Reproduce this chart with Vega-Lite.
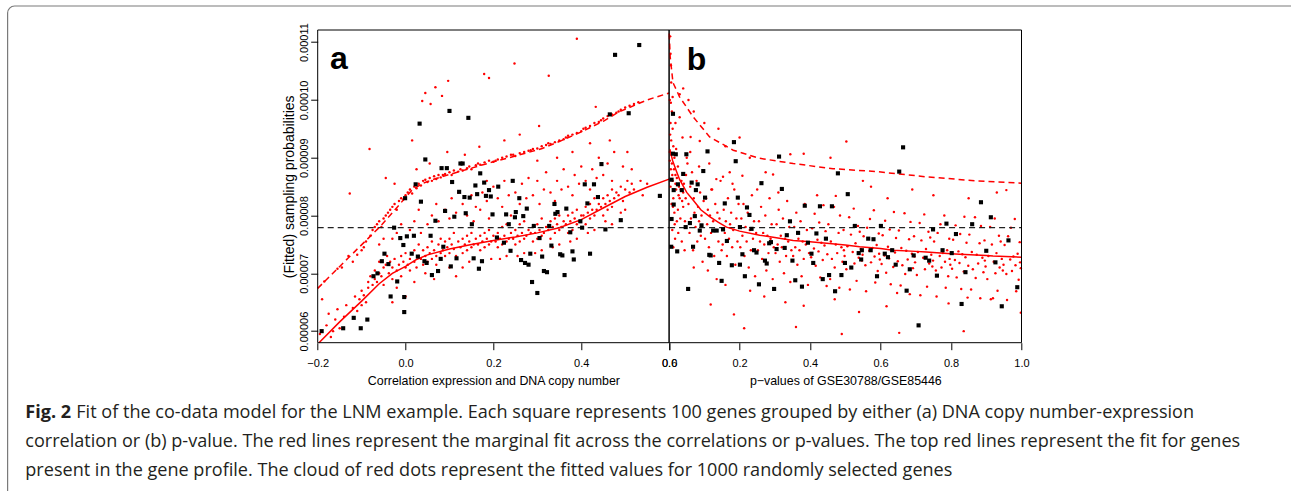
{
"$schema": "https://vega.github.io/schema/vega-lite/v6.json",
"width": 1292, "height": 492,
"autosize": {"type": "none"},
"padding": {"left": 7.3, "top": 5.7, "right": -8.3, "bottom": -6.7},
"background": "white",
"view": {"stroke": "#7a7a7a", "strokeWidth": 1.2, "cornerRadius": 7},
"config": {
  "font": "Liberation Sans",
  "axis": {"domain": false, "grid": false, "ticks": true, "tickSize": 7, "tickColor": "black", "tickWidth": 1, "labelFontSize": 11, "labelColor": "black", "titleFontSize": 12.4, "titleFontWeight": "normal", "titleColor": "black", "labelFlush": false, "labelOverlap": false}
},
"datasets": {
"caption": [
 {"line": 1, "seg": "head", "text": "Fig. 2"},
 {"line": 1, "seg": "body", "text": "Fit of the co-data model for the LNM example. Each square represents 100 genes grouped by either (a) DNA copy number-expression"},
 {"line": 2, "seg": "full", "text": "correlation or (b) p-value. The red lines represent the marginal fit across the correlations or p-values. The top red lines represent the fit for genes"},
 {"line": 3, "seg": "full", "text": "present in the gene profile. The cloud of red dots represent the fitted values for 1000 randomly selected genes"}
],
"boxA": [{"x":-0.2,"y":5.8e-5,"o":0},{"x":-0.2,"y":1.121e-4,"o":1},{"x":0.6,"y":1.121e-4,"o":2},{"x":0.6,"y":5.8e-5,"o":3},{"x":-0.2,"y":5.8e-5,"o":4}],
"boxB": [{"x":0,"y":5.8e-5,"o":0},{"x":0,"y":1.121e-4,"o":1},{"x":1,"y":1.121e-4,"o":2},{"x":1,"y":5.8e-5,"o":3},{"x":0,"y":5.8e-5,"o":4}],
"fitA": [
 {"k":"m","x":-0.197,"y":5.8e-5},{"k":"m","x":-0.15,"y":6.16e-5},{"k":"m","x":-0.1,"y":6.52e-5},{"k":"m","x":-0.06,"y":6.82e-5},{"k":"m","x":-0.03,"y":7.0e-5},{"k":"m","x":0,"y":7.12e-5},{"k":"m","x":0.025,"y":7.24e-5},{"k":"m","x":0.05,"y":7.32e-5},{"k":"m","x":0.1,"y":7.42e-5},{"k":"m","x":0.15,"y":7.5e-5},{"k":"m","x":0.2,"y":7.57e-5},{"k":"m","x":0.25,"y":7.63e-5},{"k":"m","x":0.3,"y":7.7e-5},{"k":"m","x":0.35,"y":7.79e-5},{"k":"m","x":0.4,"y":7.93e-5},{"k":"m","x":0.45,"y":8.13e-5},{"k":"m","x":0.5,"y":8.33e-5},{"k":"m","x":0.55,"y":8.49e-5},{"k":"m","x":0.6,"y":8.63e-5},
 {"k":"p","x":-0.2,"y":6.74e-5},{"k":"p","x":-0.13,"y":7.27e-5},{"k":"p","x":-0.059,"y":7.8e-5},{"k":"p","x":-0.03,"y":8.05e-5},{"k":"p","x":-0.006,"y":8.26e-5},{"k":"p","x":0.016,"y":8.45e-5},{"k":"p","x":0.04,"y":8.56e-5},{"k":"p","x":0.069,"y":8.64e-5},{"k":"p","x":0.1,"y":8.71e-5},{"k":"p","x":0.145,"y":8.81e-5},{"k":"p","x":0.2,"y":8.93e-5},{"k":"p","x":0.25,"y":9.03e-5},{"k":"p","x":0.311,"y":9.16e-5},{"k":"p","x":0.35,"y":9.28e-5},{"k":"p","x":0.401,"y":9.45e-5},{"k":"p","x":0.45,"y":9.63e-5},{"k":"p","x":0.485,"y":9.79e-5},{"k":"p","x":0.55,"y":10.0e-5},{"k":"p","x":0.6,"y":10.12e-5}
],
"fitB": [
 {"k":"m","x":0.002,"y":9.15e-5},{"k":"m","x":0.01,"y":8.95e-5},{"k":"m","x":0.02,"y":8.78e-5},{"k":"m","x":0.03,"y":8.62e-5},{"k":"m","x":0.05,"y":8.4e-5},{"k":"m","x":0.068,"y":8.27e-5},{"k":"m","x":0.09,"y":8.1e-5},{"k":"m","x":0.115,"y":7.98e-5},{"k":"m","x":0.14,"y":7.88e-5},{"k":"m","x":0.163,"y":7.8e-5},{"k":"m","x":0.2,"y":7.73e-5},{"k":"m","x":0.257,"y":7.66e-5},{"k":"m","x":0.3,"y":7.62e-5},{"k":"m","x":0.352,"y":7.57e-5},{"k":"m","x":0.4,"y":7.545e-5},{"k":"m","x":0.447,"y":7.52e-5},{"k":"m","x":0.5,"y":7.49e-5},{"k":"m","x":0.541,"y":7.46e-5},{"k":"m","x":0.6,"y":7.43e-5},{"k":"m","x":0.636,"y":7.4e-5},{"k":"m","x":0.7,"y":7.38e-5},{"k":"m","x":0.73,"y":7.37e-5},{"k":"m","x":0.8,"y":7.34e-5},{"k":"m","x":0.825,"y":7.33e-5},{"k":"m","x":0.9,"y":7.31e-5},{"k":"m","x":0.919,"y":7.3e-5},{"k":"m","x":1.0,"y":7.28e-5},
 {"k":"p","x":0.0005,"y":11.15e-5},{"k":"p","x":0.003,"y":10.75e-5},{"k":"p","x":0.011,"y":10.3e-5},{"k":"p","x":0.03,"y":10.05e-5},{"k":"p","x":0.068,"y":9.71e-5},{"k":"p","x":0.115,"y":9.36e-5},{"k":"p","x":0.182,"y":9.13e-5},{"k":"p","x":0.257,"y":8.99e-5},{"k":"p","x":0.352,"y":8.9e-5},{"k":"p","x":0.465,"y":8.81e-5},{"k":"p","x":0.589,"y":8.76e-5},{"k":"p","x":0.73,"y":8.67e-5},{"k":"p","x":0.872,"y":8.6e-5},{"k":"p","x":1.0,"y":8.56e-5}
],
"sqA": [
 {"x":0.532,"y":10.95e-5},{"x":0.477,"y":10.78e-5},{"x":0.1,"y":9.81e-5},{"x":0.143,"y":9.69e-5},{"x":0.032,"y":9.59e-5},{"x":0.465,"y":9.75e-5},{"x":0.508,"y":9.77e-5},{"x":0.045,"y":8.97e-5},{"x":0.082,"y":8.82e-5},{"x":0.094,"y":8.82e-5},{"x":0.125,"y":8.9e-5},{"x":0.13,"y":8.9e-5},{"x":0.17,"y":8.73e-5},{"x":0.106,"y":8.58e-5},{"x":0.023,"y":8.54e-5},{"x":0.159,"y":8.52e-5},{"x":0.179,"y":8.57e-5},{"x":0.211,"y":8.5e-5},{"x":0.244,"y":8.6e-5},{"x":0.408,"y":8.54e-5},{"x":0.429,"y":8.54e-5},{"x":0.446,"y":8.89e-5},{"x":0.122,"y":8.41e-5},{"x":0.163,"y":8.37e-5},{"x":0.134,"y":8.32e-5},{"x":0.146,"y":8.31e-5},{"x":0.183,"y":8.34e-5},{"x":0.194,"y":8.33e-5},{"x":0.19,"y":8.44e-5},{"x":0.259,"y":8.3e-5},{"x":0.438,"y":8.32e-5},{"x":0.579,"y":8.34e-5},{"x":-0.001,"y":8.3e-5},
 {"x":0.035,"y":8.24e-5},{"x":0.09,"y":8.08e-5},{"x":0.111,"y":7.98e-5},{"x":0.137,"y":8.04e-5},{"x":0.198,"y":8.02e-5},{"x":0.229,"y":8.02e-5},{"x":0.251,"y":8.06e-5},{"x":0.276,"y":8.12e-5},{"x":0.268,"y":7.99e-5},{"x":0.339,"y":8.2e-5},{"x":0.341,"y":8.03e-5},{"x":0.346,"y":8.06e-5},{"x":0.366,"y":8.12e-5},{"x":0.414,"y":8.21e-5},{"x":0.49,"y":7.92e-5},{"x":0.249,"y":7.97e-5},{"x":0.151,"y":7.85e-5},{"x":0.235,"y":7.85e-5},{"x":0.292,"y":7.82e-5},{"x":0.327,"y":7.82e-5},{"x":-0.026,"y":7.79e-5},{"x":0.398,"y":7.9e-5},{"x":0.402,"y":7.79e-5},{"x":0.455,"y":7.76e-5},{"x":0.068,"y":7.91e-5},{"x":-0.012,"y":7.61e-5},{"x":0.003,"y":7.64e-5},{"x":0.019,"y":7.65e-5},{"x":0.057,"y":7.65e-5},{"x":0.208,"y":7.62e-5},{"x":0.305,"y":7.61e-5},{"x":0.375,"y":7.71e-5},{"x":-0.005,"y":7.49e-5},{"x":0.014,"y":7.34e-5},{"x":0.028,"y":7.29e-5},{"x":0.086,"y":7.46e-5},{"x":0.224,"y":7.53e-5},{"x":0.239,"y":7.39e-5},{"x":0.332,"y":7.48e-5},{"x":0.352,"y":7.33e-5},{"x":0.357,"y":7.31e-5},{"x":0.38,"y":7.38e-5},{"x":0.383,"y":7.24e-5},{"x":0.42,"y":7.34e-5},{"x":-0.054,"y":7.21e-5},{"x":-0.048,"y":7.34e-5},{"x":-0.039,"y":7.16e-5},{"x":0.043,"y":7.21e-5},{"x":0.048,"y":7.18e-5},{"x":0.08,"y":7.25e-5},{"x":0.116,"y":7.26e-5},{"x":0.155,"y":7.26e-5},{"x":0.174,"y":7.21e-5},{"x":0.263,"y":7.23e-5},{"x":0.272,"y":7.18e-5},{"x":0.28,"y":7.15e-5},{"x":0.284,"y":7.34e-5},{"x":0.311,"y":7.29e-5},{"x":-0.073,"y":6.95e-5},{"x":-0.064,"y":7.0e-5},{"x":0.06,"y":6.97e-5},{"x":0.074,"y":7.04e-5},{"x":0.103,"y":7.12e-5},{"x":0.167,"y":7.08e-5},{"x":0.315,"y":7.04e-5},{"x":0.322,"y":7.02e-5},{"x":0.362,"y":6.97e-5},{"x":-0.019,"y":6.86e-5},{"x":-0.034,"y":6.6e-5},{"x":-0.003,"y":6.59e-5},{"x":-0.003,"y":6.33e-5},{"x":0.288,"y":6.85e-5},{"x":0.3,"y":6.66e-5},{"x":-0.191,"y":6.0e-5},{"x":-0.142,"y":6.05e-5},{"x":-0.102,"y":6.05e-5},{"x":-0.118,"y":6.23e-5},{"x":-0.087,"y":6.2e-5}
],
"sqB": [
 {"x":0.011,"y":9.76e-5},{"x":0.184,"y":9.27e-5},{"x":0.664,"y":9.18e-5},{"x":0.109,"y":9.11e-5},{"x":0.011,"y":9.07e-5},{"x":0.019,"y":9.06e-5},{"x":0.049,"y":9.06e-5},{"x":0.312,"y":9.02e-5},{"x":0.189,"y":8.94e-5},{"x":0.097,"y":8.77e-5},{"x":0.479,"y":8.73e-5},{"x":0.653,"y":8.76e-5},{"x":0.04,"y":8.72e-5},{"x":0.007,"y":8.62e-5},{"x":0.262,"y":8.56e-5},{"x":0.025,"y":8.54e-5},{"x":0.064,"y":8.57e-5},{"x":0.081,"y":8.54e-5},{"x":0.32,"y":8.46e-5},{"x":0.013,"y":8.44e-5},{"x":0.036,"y":8.44e-5},{"x":0.076,"y":8.44e-5},{"x":0.507,"y":8.37e-5},{"x":0.102,"y":8.31e-5},{"x":0.195,"y":8.31e-5},{"x":0.013,"y":8.19e-5},{"x":0.158,"y":8.21e-5},{"x":0.385,"y":8.17e-5},{"x":0.428,"y":8.16e-5},{"x":0.462,"y":8.16e-5},{"x":0.221,"y":8.14e-5},{"x":0.885,"y":8.23e-5},{"x":0.913,"y":7.97e-5},{"x":0.007,"y":7.94e-5},{"x":0.073,"y":7.99e-5},{"x":0.228,"y":8.01e-5},{"x":0.343,"y":7.9e-5},{"x":0.059,"y":7.87e-5},{"x":0.092,"y":7.83e-5},{"x":0.047,"y":7.8e-5},{"x":0.201,"y":7.8e-5},{"x":0.234,"y":7.77e-5},{"x":0.527,"y":7.82e-5},{"x":0.601,"y":7.82e-5},{"x":0.787,"y":7.86e-5},{"x":0.86,"y":7.85e-5},{"x":0.749,"y":7.76e-5},{"x":0.087,"y":7.74e-5},{"x":0.125,"y":7.74e-5},{"x":0.135,"y":7.74e-5},{"x":0.153,"y":7.76e-5},{"x":0.366,"y":7.7e-5},{"x":0.418,"y":7.69e-5},{"x":0.334,"y":7.66e-5},{"x":0.814,"y":7.68e-5},{"x":0.164,"y":7.56e-5},{"x":0.284,"y":7.52e-5},{"x":0.289,"y":7.54e-5},{"x":0.394,"y":7.53e-5},{"x":0.445,"y":7.6e-5},{"x":0.565,"y":7.6e-5},{"x":0.58,"y":7.59e-5},{"x":0.963,"y":7.57e-5},{"x":0.006,"y":7.46e-5},{"x":0.068,"y":7.46e-5},{"x":0.023,"y":7.38e-5},{"x":0.305,"y":7.42e-5},{"x":0.328,"y":7.44e-5},{"x":0.547,"y":7.4e-5},{"x":0.572,"y":7.4e-5},{"x":0.776,"y":7.4e-5},{"x":0.9,"y":7.39e-5},{"x":0.241,"y":7.4e-5},{"x":0.248,"y":7.36e-5},{"x":0.114,"y":7.32e-5},{"x":0.118,"y":7.31e-5},{"x":0.208,"y":7.33e-5},{"x":0.404,"y":7.34e-5},{"x":0.538,"y":7.35e-5},{"x":0.612,"y":7.34e-5},{"x":0.621,"y":7.28e-5},{"x":0.633,"y":7.4e-5},{"x":0.694,"y":7.31e-5},{"x":0.728,"y":7.27e-5},{"x":0.738,"y":7.22e-5},{"x":0.802,"y":7.35e-5},{"x":0.545,"y":7.24e-5},{"x":0.272,"y":7.22e-5},{"x":0.277,"y":7.17e-5},{"x":0.35,"y":7.22e-5},{"x":0.142,"y":7.18e-5},{"x":0.178,"y":7.14e-5},{"x":0.201,"y":7.15e-5},{"x":0.409,"y":7.18e-5},{"x":0.499,"y":7.18e-5},{"x":0.643,"y":7.15e-5},{"x":0.926,"y":7.19e-5},{"x":0.517,"y":7.1e-5},{"x":0.683,"y":7.07e-5},{"x":0.841,"y":7.02e-5},{"x":0.215,"y":6.95e-5},{"x":0.454,"y":6.97e-5},{"x":0.489,"y":6.97e-5},{"x":0.59,"y":6.95e-5},{"x":0.76,"y":6.96e-5},{"x":0.436,"y":6.9e-5},{"x":0.358,"y":6.88e-5},{"x":0.149,"y":6.87e-5},{"x":0.255,"y":6.81e-5},{"x":0.377,"y":6.77e-5},{"x":0.298,"y":6.73e-5},{"x":0.054,"y":6.73e-5},{"x":0.471,"y":6.69e-5},{"x":0.674,"y":6.7e-5},{"x":0.988,"y":6.76e-5},{"x":0.83,"y":6.47e-5},{"x":0.944,"y":6.43e-5},{"x":0.708,"y":6.1e-5}
],
"dotA": [
 {"x":-0.195,"y":5.95e-5},{"x":-0.19,"y":6.55e-5},{"x":-0.185,"y":6.86e-5},{"x":-0.18,"y":6.1e-5},{"x":-0.175,"y":6.3e-5},{"x":-0.17,"y":5.9e-5},{"x":-0.165,"y":6.0e-5},{"x":-0.16,"y":6.2e-5},{"x":-0.155,"y":6.38e-5},{"x":-0.15,"y":6.05e-5},{"x":-0.155,"y":7.08e-5},{"x":-0.145,"y":7.1e-5},{"x":-0.14,"y":6.25e-5},{"x":-0.135,"y":6.45e-5},{"x":-0.13,"y":7.3e-5},{"x":-0.127,"y":8.38e-5},
 {"x":-0.12,"y":6.4e-5},{"x":-0.115,"y":6.6e-5},{"x":-0.11,"y":6.35e-5},{"x":-0.105,"y":6.55e-5},{"x":-0.1,"y":6.45e-5},{"x":-0.1,"y":6.7e-5},{"x":-0.095,"y":6.62e-5},{"x":-0.09,"y":6.5e-5},{"x":-0.085,"y":6.85e-5},{"x":-0.12,"y":7.2e-5},{"x":-0.11,"y":7.32e-5},{"x":-0.1,"y":7.4e-5},{"x":-0.095,"y":7.45e-5},{"x":-0.09,"y":7.55e-5},{"x":-0.085,"y":6.75e-5},{"x":-0.082,"y":9.15e-5},{"x":-0.08,"y":7.65e-5},{"x":-0.08,"y":6.95e-5},
 {"x":-0.075,"y":6.8e-5},{"x":-0.07,"y":6.9e-5},{"x":-0.07,"y":7.05e-5},{"x":-0.065,"y":6.85e-5},{"x":-0.06,"y":7.0e-5},{"x":-0.06,"y":7.2e-5},{"x":-0.055,"y":6.95e-5},{"x":-0.05,"y":7.1e-5},{"x":-0.05,"y":6.8e-5},{"x":-0.045,"y":7.15e-5},{"x":-0.042,"y":7.3e-5},{"x":-0.075,"y":7.75e-5},{"x":-0.07,"y":7.8e-5},{"x":-0.065,"y":7.85e-5},{"x":-0.06,"y":7.9e-5},{"x":-0.055,"y":7.8e-5},{"x":-0.05,"y":7.95e-5},{"x":-0.045,"y":8.0e-5},{"x":-0.04,"y":8.05e-5},{"x":-0.06,"y":7.5e-5},{"x":-0.05,"y":7.6e-5},{"x":-0.045,"y":8.65e-5},
 {"x":-0.038,"y":7.0e-5},{"x":-0.035,"y":7.2e-5},{"x":-0.03,"y":7.1e-5},{"x":-0.03,"y":6.9e-5},{"x":-0.025,"y":7.25e-5},{"x":-0.02,"y":7.05e-5},{"x":-0.02,"y":6.75e-5},{"x":-0.015,"y":7.15e-5},{"x":-0.01,"y":7.3e-5},{"x":-0.01,"y":6.95e-5},{"x":-0.005,"y":7.2e-5},{"x":0.0,"y":7.1e-5},{"x":0.0,"y":7.35e-5},{"x":-0.035,"y":8.1e-5},{"x":-0.03,"y":8.15e-5},{"x":-0.025,"y":8.2e-5},{"x":-0.02,"y":8.1e-5},{"x":-0.015,"y":8.25e-5},{"x":-0.01,"y":8.3e-5},{"x":-0.005,"y":8.28e-5},{"x":0.0,"y":8.35e-5},{"x":-0.03,"y":7.6e-5},{"x":-0.02,"y":7.7e-5},{"x":-0.01,"y":7.85e-5},{"x":-0.025,"y":8.55e-5},{"x":-0.03,"y":6.5e-5},
 {"x":0.005,"y":7.15e-5},{"x":0.01,"y":7.25e-5},{"x":0.01,"y":7.05e-5},{"x":0.015,"y":7.35e-5},{"x":0.02,"y":7.2e-5},{"x":0.02,"y":7.4e-5},{"x":0.025,"y":7.1e-5},{"x":0.03,"y":7.3e-5},{"x":0.03,"y":7.5e-5},{"x":0.035,"y":7.25e-5},{"x":0.04,"y":7.15e-5},{"x":0.04,"y":7.4e-5},{"x":0.005,"y":8.4e-5},{"x":0.01,"y":8.45e-5},{"x":0.015,"y":8.38e-5},{"x":0.02,"y":8.5e-5},{"x":0.025,"y":8.47e-5},{"x":0.03,"y":8.55e-5},{"x":0.035,"y":8.52e-5},{"x":0.04,"y":8.6e-5},{"x":0.01,"y":7.75e-5},{"x":0.02,"y":7.9e-5},{"x":0.03,"y":8.1e-5},{"x":0.035,"y":7.7e-5},{"x":0.025,"y":8.8e-5},{"x":0.015,"y":9.3e-5},{"x":0.038,"y":9.98e-5},{"x":0.045,"y":10.12e-5},{"x":0.0,"y":6.6e-5},{"x":0.02,"y":6.85e-5},
 {"x":0.045,"y":7.3e-5},{"x":0.05,"y":7.2e-5},{"x":0.05,"y":7.45e-5},{"x":0.055,"y":7.35e-5},{"x":0.06,"y":7.25e-5},{"x":0.06,"y":7.55e-5},{"x":0.065,"y":7.4e-5},{"x":0.07,"y":7.3e-5},{"x":0.07,"y":7.15e-5},{"x":0.075,"y":7.5e-5},{"x":0.08,"y":7.35e-5},{"x":0.08,"y":7.6e-5},{"x":0.045,"y":8.62e-5},{"x":0.05,"y":8.58e-5},{"x":0.055,"y":8.65e-5},{"x":0.06,"y":8.6e-5},{"x":0.065,"y":8.68e-5},{"x":0.07,"y":8.63e-5},{"x":0.075,"y":8.7e-5},{"x":0.08,"y":8.66e-5},{"x":0.05,"y":7.85e-5},{"x":0.06,"y":8.0e-5},{"x":0.07,"y":8.2e-5},{"x":0.075,"y":7.9e-5},{"x":0.055,"y":8.9e-5},{"x":0.068,"y":10.22e-5},{"x":0.083,"y":10.07e-5},{"x":0.057,"y":9.93e-5},{"x":0.065,"y":6.9e-5},{"x":0.045,"y":7.0e-5},
 {"x":0.085,"y":7.4e-5},{"x":0.09,"y":7.3e-5},{"x":0.09,"y":7.55e-5},{"x":0.095,"y":7.45e-5},{"x":0.1,"y":7.35e-5},{"x":0.1,"y":7.6e-5},{"x":0.105,"y":7.5e-5},{"x":0.11,"y":7.42e-5},{"x":0.11,"y":7.7e-5},{"x":0.115,"y":7.3e-5},{"x":0.12,"y":7.55e-5},{"x":0.085,"y":8.7e-5},{"x":0.09,"y":8.72e-5},{"x":0.1,"y":8.75e-5},{"x":0.105,"y":8.7e-5},{"x":0.11,"y":8.78e-5},{"x":0.12,"y":8.76e-5},{"x":0.09,"y":8.1e-5},{"x":0.1,"y":7.95e-5},{"x":0.105,"y":8.3e-5},{"x":0.115,"y":8.05e-5},{"x":0.12,"y":8.4e-5},{"x":0.097,"y":10.33e-5},{"x":0.095,"y":9.1e-5},{"x":0.1,"y":7.1e-5},{"x":0.115,"y":6.95e-5},
 {"x":0.125,"y":7.45e-5},{"x":0.13,"y":7.6e-5},{"x":0.13,"y":7.35e-5},{"x":0.135,"y":7.5e-5},{"x":0.14,"y":7.65e-5},{"x":0.14,"y":7.4e-5},{"x":0.145,"y":7.55e-5},{"x":0.15,"y":7.45e-5},{"x":0.15,"y":7.7e-5},{"x":0.155,"y":7.5e-5},{"x":0.16,"y":7.6e-5},{"x":0.125,"y":8.8e-5},{"x":0.13,"y":8.78e-5},{"x":0.14,"y":8.82e-5},{"x":0.145,"y":8.85e-5},{"x":0.15,"y":8.8e-5},{"x":0.16,"y":8.87e-5},{"x":0.13,"y":8.2e-5},{"x":0.14,"y":8.0e-5},{"x":0.15,"y":8.35e-5},{"x":0.155,"y":7.9e-5},{"x":0.16,"y":8.15e-5},{"x":0.168,"y":9.19e-5},{"x":0.13,"y":7.1e-5},{"x":0.145,"y":7.2e-5},{"x":0.135,"y":9.05e-5},
 {"x":0.165,"y":7.5e-5},{"x":0.17,"y":7.65e-5},{"x":0.17,"y":7.4e-5},{"x":0.175,"y":7.55e-5},{"x":0.18,"y":7.7e-5},{"x":0.18,"y":7.45e-5},{"x":0.185,"y":7.6e-5},{"x":0.19,"y":7.5e-5},{"x":0.19,"y":7.75e-5},{"x":0.195,"y":7.55e-5},{"x":0.2,"y":7.65e-5},{"x":0.165,"y":8.9e-5},{"x":0.17,"y":8.88e-5},{"x":0.18,"y":8.92e-5},{"x":0.19,"y":8.95e-5},{"x":0.2,"y":8.93e-5},{"x":0.17,"y":8.1e-5},{"x":0.175,"y":8.4e-5},{"x":0.185,"y":8.25e-5},{"x":0.19,"y":7.95e-5},{"x":0.2,"y":8.5e-5},{"x":0.179,"y":10.45e-5},{"x":0.19,"y":10.38e-5},{"x":0.175,"y":7.2e-5},{"x":0.195,"y":7.25e-5},{"x":0.185,"y":8.6e-5},
 {"x":0.205,"y":7.55e-5},{"x":0.21,"y":7.7e-5},{"x":0.21,"y":7.45e-5},{"x":0.215,"y":7.6e-5},{"x":0.22,"y":7.8e-5},{"x":0.22,"y":7.5e-5},{"x":0.225,"y":7.65e-5},{"x":0.23,"y":7.55e-5},{"x":0.23,"y":7.85e-5},{"x":0.235,"y":7.6e-5},{"x":0.24,"y":7.7e-5},{"x":0.205,"y":8.95e-5},{"x":0.21,"y":8.97e-5},{"x":0.22,"y":9.0e-5},{"x":0.23,"y":9.02e-5},{"x":0.24,"y":9.05e-5},{"x":0.21,"y":8.3e-5},{"x":0.22,"y":8.15e-5},{"x":0.225,"y":8.6e-5},{"x":0.235,"y":8.35e-5},{"x":0.24,"y":8.0e-5},{"x":0.215,"y":7.25e-5},{"x":0.23,"y":7.3e-5},{"x":0.225,"y":9.3e-5},
 {"x":0.245,"y":7.6e-5},{"x":0.25,"y":7.75e-5},{"x":0.25,"y":7.5e-5},{"x":0.255,"y":7.65e-5},{"x":0.26,"y":7.85e-5},{"x":0.26,"y":7.55e-5},{"x":0.265,"y":7.7e-5},{"x":0.27,"y":7.6e-5},{"x":0.27,"y":7.9e-5},{"x":0.275,"y":7.65e-5},{"x":0.28,"y":7.75e-5},{"x":0.245,"y":9.05e-5},{"x":0.25,"y":9.03e-5},{"x":0.26,"y":9.08e-5},{"x":0.27,"y":9.1e-5},{"x":0.28,"y":9.12e-5},{"x":0.248,"y":10.63e-5},{"x":0.25,"y":8.4e-5},{"x":0.26,"y":8.2e-5},{"x":0.265,"y":8.55e-5},{"x":0.275,"y":8.3e-5},{"x":0.28,"y":8.65e-5},{"x":0.255,"y":7.3e-5},{"x":0.27,"y":7.35e-5},{"x":0.26,"y":9.4e-5},
 {"x":0.285,"y":7.7e-5},{"x":0.29,"y":7.8e-5},{"x":0.29,"y":7.55e-5},{"x":0.295,"y":7.7e-5},{"x":0.3,"y":7.85e-5},{"x":0.3,"y":7.6e-5},{"x":0.305,"y":7.75e-5},{"x":0.31,"y":7.65e-5},{"x":0.31,"y":7.95e-5},{"x":0.315,"y":7.7e-5},{"x":0.32,"y":7.8e-5},{"x":0.285,"y":9.13e-5},{"x":0.29,"y":9.15e-5},{"x":0.3,"y":9.16e-5},{"x":0.31,"y":9.2e-5},{"x":0.32,"y":9.22e-5},{"x":0.29,"y":8.35e-5},{"x":0.3,"y":8.6e-5},{"x":0.305,"y":8.2e-5},{"x":0.315,"y":8.45e-5},{"x":0.32,"y":8.75e-5},{"x":0.304,"y":9.55e-5},{"x":0.295,"y":7.35e-5},{"x":0.31,"y":7.4e-5},{"x":0.3,"y":8.95e-5},
 {"x":0.325,"y":7.75e-5},{"x":0.33,"y":7.9e-5},{"x":0.33,"y":7.6e-5},{"x":0.335,"y":7.8e-5},{"x":0.34,"y":7.95e-5},{"x":0.34,"y":7.7e-5},{"x":0.345,"y":7.85e-5},{"x":0.35,"y":7.75e-5},{"x":0.35,"y":8.0e-5},{"x":0.355,"y":7.8e-5},{"x":0.36,"y":7.9e-5},{"x":0.326,"y":10.42e-5},{"x":0.325,"y":9.25e-5},{"x":0.33,"y":9.24e-5},{"x":0.34,"y":9.27e-5},{"x":0.35,"y":9.3e-5},{"x":0.36,"y":9.32e-5},{"x":0.33,"y":8.4e-5},{"x":0.34,"y":8.25e-5},{"x":0.345,"y":8.6e-5},{"x":0.355,"y":8.45e-5},{"x":0.36,"y":8.8e-5},{"x":0.335,"y":7.45e-5},{"x":0.35,"y":7.5e-5},{"x":0.345,"y":9.0e-5},
 {"x":0.365,"y":7.85e-5},{"x":0.37,"y":8.0e-5},{"x":0.37,"y":7.7e-5},{"x":0.375,"y":7.9e-5},{"x":0.38,"y":8.05e-5},{"x":0.38,"y":7.75e-5},{"x":0.385,"y":7.95e-5},{"x":0.39,"y":7.85e-5},{"x":0.39,"y":8.1e-5},{"x":0.395,"y":7.9e-5},{"x":0.4,"y":8.0e-5},{"x":0.39,"y":11.06e-5},{"x":0.365,"y":9.35e-5},{"x":0.37,"y":9.38e-5},{"x":0.38,"y":9.4e-5},{"x":0.39,"y":9.43e-5},{"x":0.4,"y":9.46e-5},{"x":0.37,"y":8.5e-5},{"x":0.38,"y":8.35e-5},{"x":0.385,"y":8.7e-5},{"x":0.395,"y":8.55e-5},{"x":0.4,"y":8.85e-5},{"x":0.375,"y":7.55e-5},{"x":0.39,"y":7.6e-5},{"x":0.38,"y":9.1e-5},
 {"x":0.405,"y":8.0e-5},{"x":0.41,"y":8.15e-5},{"x":0.41,"y":7.85e-5},{"x":0.415,"y":8.05e-5},{"x":0.42,"y":8.2e-5},{"x":0.42,"y":7.95e-5},{"x":0.425,"y":8.1e-5},{"x":0.43,"y":8.0e-5},{"x":0.43,"y":8.3e-5},{"x":0.435,"y":8.1e-5},{"x":0.44,"y":8.2e-5},{"x":0.405,"y":9.5e-5},{"x":0.41,"y":9.52e-5},{"x":0.42,"y":9.55e-5},{"x":0.43,"y":9.6e-5},{"x":0.44,"y":9.62e-5},{"x":0.41,"y":8.6e-5},{"x":0.42,"y":8.45e-5},{"x":0.425,"y":8.8e-5},{"x":0.435,"y":8.65e-5},{"x":0.44,"y":9.0e-5},{"x":0.433,"y":9.88e-5},{"x":0.415,"y":7.7e-5},{"x":0.43,"y":7.75e-5},{"x":0.42,"y":9.25e-5},
 {"x":0.445,"y":8.15e-5},{"x":0.45,"y":8.3e-5},{"x":0.45,"y":8.0e-5},{"x":0.455,"y":8.2e-5},{"x":0.46,"y":8.35e-5},{"x":0.46,"y":8.1e-5},{"x":0.465,"y":8.25e-5},{"x":0.47,"y":8.15e-5},{"x":0.47,"y":8.45e-5},{"x":0.475,"y":8.3e-5},{"x":0.48,"y":8.4e-5},{"x":0.445,"y":9.65e-5},{"x":0.45,"y":9.68e-5},{"x":0.46,"y":9.72e-5},{"x":0.47,"y":9.75e-5},{"x":0.48,"y":9.78e-5},{"x":0.45,"y":8.7e-5},{"x":0.46,"y":8.9e-5},{"x":0.47,"y":8.6e-5},{"x":0.475,"y":9.1e-5},{"x":0.455,"y":7.9e-5},{"x":0.47,"y":7.85e-5},{"x":0.465,"y":9.3e-5},
 {"x":0.485,"y":8.35e-5},{"x":0.49,"y":8.5e-5},{"x":0.495,"y":8.25e-5},{"x":0.5,"y":8.45e-5},{"x":0.505,"y":8.6e-5},{"x":0.51,"y":8.4e-5},{"x":0.515,"y":8.55e-5},{"x":0.52,"y":8.45e-5},{"x":0.485,"y":9.8e-5},{"x":0.49,"y":9.83e-5},{"x":0.5,"y":9.87e-5},{"x":0.51,"y":9.9e-5},{"x":0.52,"y":9.93e-5},{"x":0.53,"y":9.96e-5},{"x":0.495,"y":8.85e-5},{"x":0.505,"y":9.1e-5},{"x":0.515,"y":8.8e-5},{"x":0.49,"y":8.05e-5},{"x":0.5,"y":8.1e-5},{"x":0.535,"y":8.6e-5},{"x":0.54,"y":8.35e-5},{"x":0.55,"y":8.55e-5}
],
"dotB": [
 {"x":0.003,"y":11.1e-5},{"x":0.004,"y":10.8e-5},{"x":0.005,"y":10.6e-5},{"x":0.006,"y":10.3e-5},{"x":0.002,"y":10.0e-5},{"x":0.008,"y":9.8e-5},{"x":0.004,"y":9.6e-5},{"x":0.01,"y":9.5e-5},{"x":0.003,"y":9.4e-5},{"x":0.006,"y":9.3e-5},{"x":0.012,"y":9.2e-5},{"x":0.002,"y":9.1e-5},{"x":0.015,"y":9.0e-5},{"x":0.008,"y":8.9e-5},{"x":0.005,"y":8.8e-5},{"x":0.018,"y":8.7e-5},{"x":0.01,"y":8.6e-5},{"x":0.004,"y":8.5e-5},{"x":0.02,"y":8.45e-5},{"x":0.012,"y":8.3e-5},{"x":0.007,"y":8.2e-5},{"x":0.015,"y":8.05e-5},{"x":0.022,"y":7.9e-5},{"x":0.009,"y":7.75e-5},{"x":0.017,"y":7.6e-5},{"x":0.012,"y":7.45e-5},{"x":0.025,"y":8.85e-5},{"x":0.02,"y":9.15e-5},{"x":0.028,"y":8.5e-5},{"x":0.03,"y":8.3e-5},{"x":0.025,"y":8.1e-5},{"x":0.032,"y":7.95e-5},{"x":0.035,"y":8.6e-5},{"x":0.04,"y":8.4e-5},{"x":0.04,"y":8.15e-5},{"x":0.045,"y":7.9e-5},{"x":0.038,"y":9.35e-5},{"x":0.03,"y":9.7e-5},{"x":0.05,"y":9.0e-5},{"x":0.002,"y":8.95e-5},{"x":0.006,"y":9.05e-5},{"x":0.009,"y":8.7e-5},{"x":0.014,"y":8.8e-5},{"x":0.018,"y":8.55e-5},{"x":0.022,"y":8.65e-5},{"x":0.027,"y":8.35e-5},{"x":0.033,"y":8.45e-5},{"x":0.037,"y":8.25e-5},{"x":0.042,"y":8.55e-5},{"x":0.047,"y":8.3e-5},{"x":0.011,"y":8.15e-5},{"x":0.016,"y":7.85e-5},{"x":0.026,"y":7.7e-5},{"x":0.036,"y":7.55e-5},{"x":0.044,"y":7.4e-5},{"x":0.048,"y":8.7e-5},{"x":0.005,"y":9.95e-5},{"x":0.01,"y":10.05e-5},{"x":0.018,"y":9.6e-5},
 {"x":0.503,"y":9.28e-5},{"x":0.344,"y":9.06e-5},{"x":0.382,"y":9.07e-5},{"x":0.458,"y":9.0e-5},{"x":0.573,"y":8.5e-5},{"x":0.473,"y":8.34e-5},{"x":0.274,"y":8.75e-5},{"x":0.295,"y":8.71e-5},{"x":0.229,"y":9.0e-5},{"x":0.208,"y":8.69e-5},{"x":0.172,"y":8.75e-5},{"x":0.153,"y":8.67e-5},{"x":0.134,"y":8.63e-5},{"x":0.087,"y":9.29e-5},{"x":0.061,"y":9.36e-5},{"x":0.114,"y":8.9e-5},{"x":0.25,"y":8.45e-5},{"x":0.31,"y":8.4e-5},{"x":0.42,"y":8.35e-5},{"x":0.62,"y":8.3e-5},{"x":0.75,"y":8.35e-5},{"x":0.85,"y":8.3e-5},{"x":0.93,"y":8.4e-5},{"x":0.55,"y":8.6e-5},{"x":0.18,"y":8.55e-5},{"x":0.12,"y":8.45e-5},{"x":0.16,"y":9.2e-5},{"x":0.2,"y":9.35e-5},{"x":0.14,"y":9.5e-5},{"x":0.1,"y":9.6e-5},{"x":0.07,"y":9.8e-5},{"x":0.055,"y":10.0e-5},{"x":0.04,"y":10.2e-5},{"x":0.03,"y":10.1e-5},
 {"x":0.052,"y":8.9e-5},{"x":0.055,"y":8.2e-5},{"x":0.058,"y":7.7e-5},{"x":0.06,"y":8.5e-5},{"x":0.062,"y":7.95e-5},{"x":0.065,"y":8.75e-5},{"x":0.068,"y":7.4e-5},{"x":0.07,"y":8.3e-5},{"x":0.072,"y":8.05e-5},{"x":0.075,"y":7.8e-5},{"x":0.078,"y":8.6e-5},{"x":0.08,"y":7.55e-5},{"x":0.082,"y":8.15e-5},{"x":0.085,"y":7.9e-5},{"x":0.088,"y":8.4e-5},{"x":0.09,"y":7.65e-5},{"x":0.092,"y":8.0e-5},{"x":0.095,"y":7.2e-5},{"x":0.098,"y":8.25e-5},{"x":0.06,"y":9.1e-5},{"x":0.07,"y":7.1e-5},{"x":0.085,"y":8.85e-5},
 {"x":0.102,"y":7.6e-5},{"x":0.105,"y":8.3e-5},{"x":0.108,"y":7.85e-5},{"x":0.11,"y":8.1e-5},{"x":0.113,"y":7.45e-5},{"x":0.116,"y":8.0e-5},{"x":0.119,"y":7.7e-5},{"x":0.122,"y":8.45e-5},{"x":0.125,"y":7.9e-5},{"x":0.128,"y":7.3e-5},{"x":0.131,"y":8.2e-5},{"x":0.134,"y":7.75e-5},{"x":0.137,"y":8.05e-5},{"x":0.14,"y":7.55e-5},{"x":0.143,"y":7.95e-5},{"x":0.146,"y":8.6e-5},{"x":0.149,"y":7.4e-5},{"x":0.118,"y":6.46e-5},{"x":0.11,"y":7.05e-5},{"x":0.135,"y":6.9e-5},
 {"x":0.152,"y":7.5e-5},{"x":0.155,"y":8.1e-5},{"x":0.158,"y":7.7e-5},{"x":0.161,"y":7.9e-5},{"x":0.164,"y":7.3e-5},{"x":0.167,"y":8.3e-5},{"x":0.17,"y":7.6e-5},{"x":0.173,"y":7.85e-5},{"x":0.176,"y":8.05e-5},{"x":0.179,"y":7.45e-5},{"x":0.182,"y":7.75e-5},{"x":0.185,"y":8.45e-5},{"x":0.188,"y":7.15e-5},{"x":0.191,"y":7.95e-5},{"x":0.194,"y":7.55e-5},{"x":0.197,"y":8.2e-5},{"x":0.184,"y":6.29e-5},{"x":0.16,"y":6.8e-5},
 {"x":0.202,"y":7.45e-5},{"x":0.205,"y":7.95e-5},{"x":0.208,"y":7.65e-5},{"x":0.211,"y":8.2e-5},{"x":0.214,"y":7.3e-5},{"x":0.217,"y":7.8e-5},{"x":0.22,"y":7.55e-5},{"x":0.223,"y":8.05e-5},{"x":0.226,"y":7.1e-5},{"x":0.229,"y":7.75e-5},{"x":0.232,"y":7.4e-5},{"x":0.235,"y":8.35e-5},{"x":0.238,"y":7.6e-5},{"x":0.241,"y":7.9e-5},{"x":0.244,"y":6.95e-5},{"x":0.247,"y":7.7e-5},{"x":0.213,"y":6.05e-5},{"x":0.23,"y":6.7e-5},
 {"x":0.252,"y":7.4e-5},{"x":0.255,"y":7.9e-5},{"x":0.258,"y":7.55e-5},{"x":0.261,"y":8.15e-5},{"x":0.264,"y":7.25e-5},{"x":0.267,"y":7.7e-5},{"x":0.27,"y":7.5e-5},{"x":0.273,"y":8.0e-5},{"x":0.276,"y":7.05e-5},{"x":0.279,"y":7.65e-5},{"x":0.282,"y":7.35e-5},{"x":0.285,"y":8.3e-5},{"x":0.288,"y":7.6e-5},{"x":0.291,"y":7.85e-5},{"x":0.294,"y":6.9e-5},{"x":0.297,"y":7.45e-5},{"x":0.27,"y":6.6e-5},
 {"x":0.302,"y":7.35e-5},{"x":0.305,"y":7.85e-5},{"x":0.308,"y":7.5e-5},{"x":0.311,"y":8.1e-5},{"x":0.314,"y":7.2e-5},{"x":0.317,"y":7.65e-5},{"x":0.32,"y":7.45e-5},{"x":0.323,"y":7.95e-5},{"x":0.326,"y":7.0e-5},{"x":0.329,"y":7.6e-5},{"x":0.332,"y":7.3e-5},{"x":0.335,"y":8.25e-5},{"x":0.338,"y":7.55e-5},{"x":0.341,"y":7.8e-5},{"x":0.344,"y":6.85e-5},{"x":0.347,"y":7.4e-5},{"x":0.33,"y":6.5e-5},
 {"x":0.352,"y":7.3e-5},{"x":0.355,"y":7.8e-5},{"x":0.358,"y":7.45e-5},{"x":0.361,"y":8.05e-5},{"x":0.364,"y":7.15e-5},{"x":0.367,"y":7.6e-5},{"x":0.37,"y":7.4e-5},{"x":0.373,"y":7.9e-5},{"x":0.376,"y":6.95e-5},{"x":0.379,"y":7.55e-5},{"x":0.382,"y":7.25e-5},{"x":0.385,"y":8.2e-5},{"x":0.388,"y":7.5e-5},{"x":0.391,"y":7.75e-5},{"x":0.394,"y":6.8e-5},{"x":0.397,"y":7.35e-5},{"x":0.36,"y":6.07e-5},{"x":0.382,"y":6.44e-5},
 {"x":0.403,"y":7.28e-5},{"x":0.406,"y":7.78e-5},{"x":0.411,"y":7.43e-5},{"x":0.413,"y":8.03e-5},{"x":0.416,"y":7.13e-5},{"x":0.421,"y":7.58e-5},{"x":0.424,"y":7.38e-5},{"x":0.426,"y":7.88e-5},{"x":0.429,"y":6.93e-5},{"x":0.432,"y":7.53e-5},{"x":0.436,"y":7.23e-5},{"x":0.438,"y":8.18e-5},{"x":0.441,"y":7.48e-5},{"x":0.444,"y":7.73e-5},{"x":0.447,"y":6.78e-5},{"x":0.449,"y":7.33e-5},
 {"x":0.452,"y":7.85e-5},{"x":0.457,"y":6.9e-5},{"x":0.459,"y":7.55e-5},{"x":0.462,"y":7.25e-5},{"x":0.468,"y":8.15e-5},{"x":0.47,"y":7.1e-5},{"x":0.473,"y":7.5e-5},{"x":0.477,"y":7.35e-5},{"x":0.481,"y":7.7e-5},{"x":0.483,"y":6.75e-5},{"x":0.485,"y":8.0e-5},{"x":0.489,"y":7.45e-5},{"x":0.492,"y":7.2e-5},{"x":0.495,"y":7.75e-5},{"x":0.496,"y":7.4e-5},{"x":0.498,"y":7.3e-5},{"x":0.49,"y":5.95e-5},{"x":0.47,"y":6.55e-5},
 {"x":0.503,"y":7.07e-5},{"x":0.506,"y":7.47e-5},{"x":0.511,"y":7.97e-5},{"x":0.513,"y":6.72e-5},{"x":0.516,"y":7.67e-5},{"x":0.521,"y":7.37e-5},{"x":0.524,"y":8.12e-5},{"x":0.526,"y":7.17e-5},{"x":0.529,"y":7.52e-5},{"x":0.532,"y":6.87e-5},{"x":0.536,"y":7.82e-5},{"x":0.538,"y":7.27e-5},{"x":0.541,"y":7.72e-5},{"x":0.544,"y":7.42e-5},{"x":0.547,"y":7.22e-5},{"x":0.549,"y":7.32e-5},{"x":0.539,"y":6.33e-5},
 {"x":0.552,"y":7.64e-5},{"x":0.557,"y":7.14e-5},{"x":0.559,"y":6.69e-5},{"x":0.562,"y":7.79e-5},{"x":0.568,"y":7.39e-5},{"x":0.57,"y":7.94e-5},{"x":0.573,"y":7.19e-5},{"x":0.577,"y":7.44e-5},{"x":0.581,"y":8.09e-5},{"x":0.583,"y":7.29e-5},{"x":0.585,"y":6.84e-5},{"x":0.589,"y":7.49e-5},{"x":0.592,"y":7.04e-5},{"x":0.595,"y":7.69e-5},{"x":0.596,"y":7.34e-5},{"x":0.598,"y":7.24e-5},
 {"x":0.603,"y":7.16e-5},{"x":0.606,"y":7.66e-5},{"x":0.611,"y":7.31e-5},{"x":0.613,"y":7.91e-5},{"x":0.616,"y":7.01e-5},{"x":0.621,"y":7.46e-5},{"x":0.624,"y":7.26e-5},{"x":0.626,"y":7.76e-5},{"x":0.629,"y":6.81e-5},{"x":0.632,"y":7.41e-5},{"x":0.636,"y":7.11e-5},{"x":0.638,"y":8.06e-5},{"x":0.641,"y":7.36e-5},{"x":0.644,"y":7.61e-5},{"x":0.647,"y":6.66e-5},{"x":0.649,"y":7.21e-5},{"x":0.617,"y":6.43e-5},
 {"x":0.652,"y":7.74e-5},{"x":0.657,"y":6.79e-5},{"x":0.659,"y":7.44e-5},{"x":0.662,"y":7.14e-5},{"x":0.668,"y":8.04e-5},{"x":0.67,"y":6.99e-5},{"x":0.673,"y":7.39e-5},{"x":0.677,"y":7.24e-5},{"x":0.681,"y":7.59e-5},{"x":0.683,"y":6.64e-5},{"x":0.685,"y":7.89e-5},{"x":0.689,"y":7.34e-5},{"x":0.692,"y":7.09e-5},{"x":0.695,"y":7.64e-5},{"x":0.696,"y":7.29e-5},{"x":0.698,"y":7.19e-5},{"x":0.653,"y":5.97e-5},{"x":0.69,"y":8.45e-5},
 {"x":0.703,"y":6.97e-5},{"x":0.706,"y":7.37e-5},{"x":0.711,"y":7.87e-5},{"x":0.713,"y":6.62e-5},{"x":0.716,"y":7.57e-5},{"x":0.721,"y":7.27e-5},{"x":0.724,"y":8.02e-5},{"x":0.726,"y":7.07e-5},{"x":0.729,"y":7.42e-5},{"x":0.732,"y":6.77e-5},{"x":0.736,"y":7.72e-5},{"x":0.738,"y":7.17e-5},{"x":0.741,"y":7.62e-5},{"x":0.744,"y":7.32e-5},{"x":0.747,"y":7.12e-5},{"x":0.749,"y":7.22e-5},
 {"x":0.752,"y":7.55e-5},{"x":0.757,"y":7.05e-5},{"x":0.759,"y":6.6e-5},{"x":0.762,"y":7.7e-5},{"x":0.768,"y":7.3e-5},{"x":0.77,"y":7.85e-5},{"x":0.773,"y":7.1e-5},{"x":0.777,"y":7.35e-5},{"x":0.781,"y":8.0e-5},{"x":0.783,"y":7.2e-5},{"x":0.785,"y":6.75e-5},{"x":0.789,"y":7.4e-5},{"x":0.792,"y":6.95e-5},{"x":0.795,"y":7.6e-5},{"x":0.796,"y":7.25e-5},{"x":0.798,"y":7.15e-5},{"x":0.793,"y":6.48e-5},
 {"x":0.803,"y":7.08e-5},{"x":0.806,"y":7.58e-5},{"x":0.811,"y":7.23e-5},{"x":0.813,"y":7.83e-5},{"x":0.816,"y":6.93e-5},{"x":0.821,"y":7.38e-5},{"x":0.824,"y":7.18e-5},{"x":0.826,"y":7.68e-5},{"x":0.829,"y":6.73e-5},{"x":0.832,"y":7.33e-5},{"x":0.836,"y":7.03e-5},{"x":0.838,"y":7.98e-5},{"x":0.841,"y":7.28e-5},{"x":0.844,"y":7.53e-5},{"x":0.847,"y":6.58e-5},{"x":0.849,"y":7.13e-5},{"x":0.836,"y":6.0e-5},
 {"x":0.852,"y":7.67e-5},{"x":0.857,"y":6.72e-5},{"x":0.859,"y":7.37e-5},{"x":0.862,"y":7.07e-5},{"x":0.868,"y":7.97e-5},{"x":0.87,"y":6.92e-5},{"x":0.873,"y":7.32e-5},{"x":0.877,"y":7.17e-5},{"x":0.881,"y":7.52e-5},{"x":0.883,"y":6.57e-5},{"x":0.885,"y":7.82e-5},{"x":0.889,"y":7.27e-5},{"x":0.892,"y":7.02e-5},{"x":0.895,"y":7.57e-5},{"x":0.896,"y":7.22e-5},{"x":0.898,"y":7.12e-5},
 {"x":0.903,"y":6.9e-5},{"x":0.906,"y":7.3e-5},{"x":0.911,"y":7.8e-5},{"x":0.913,"y":6.55e-5},{"x":0.916,"y":7.5e-5},{"x":0.921,"y":7.2e-5},{"x":0.924,"y":7.95e-5},{"x":0.926,"y":7.0e-5},{"x":0.929,"y":7.35e-5},{"x":0.932,"y":6.7e-5},{"x":0.936,"y":7.65e-5},{"x":0.938,"y":7.1e-5},{"x":0.941,"y":7.55e-5},{"x":0.944,"y":7.25e-5},{"x":0.947,"y":7.05e-5},{"x":0.949,"y":7.15e-5},{"x":0.919,"y":6.57e-5},
 {"x":0.952,"y":7.49e-5},{"x":0.957,"y":6.99e-5},{"x":0.959,"y":6.54e-5},{"x":0.962,"y":7.64e-5},{"x":0.968,"y":7.24e-5},{"x":0.97,"y":7.79e-5},{"x":0.973,"y":7.04e-5},{"x":0.977,"y":7.29e-5},{"x":0.981,"y":7.94e-5},{"x":0.983,"y":7.14e-5},{"x":0.985,"y":6.69e-5},{"x":0.989,"y":7.34e-5},{"x":0.992,"y":6.89e-5},{"x":0.995,"y":7.54e-5},{"x":0.996,"y":7.19e-5},{"x":0.998,"y":7.09e-5},{"x":0.998,"y":6.32e-5},{"x":0.957,"y":8.44e-5}
]
},
"resolve": {"scale": {"x": "independent", "y": "independent"}, "axis": {"x": "independent", "y": "independent"}},
"layer": [
 {
  "resolve": {"scale": {"x": "shared", "y": "shared"}, "axis": {"x": "shared", "y": "shared"}},
  "encoding": {
    "x": {"field": "x", "type": "quantitative", "scale": {"domain": [-0.2, 0.6], "range": [310.4, 661.8], "nice": false, "zero": false},
          "axis": {"orient": "bottom", "offset": -155, "values": [-0.2, 0, 0.2, 0.4, 0.6], "format": ".1f", "title": "Correlation expression and DNA copy number", "labelPadding": 7.3, "titlePadding": 6}},
    "y": {"field": "y", "type": "quantitative", "scale": {"domain": [5.8e-5, 1.121e-4], "range": [337, 24.3], "nice": false, "zero": false},
          "axis": {"orient": "left", "offset": -310.4, "values": [0.00006, 0.00007, 0.00008, 0.00009, 0.0001, 0.00011], "format": ".5f", "title": "(Fitted) sampling probabilities", "titleFontSize": 14, "labelAngle": 270, "labelAlign": "center", "labelBaseline": "alphabetic", "labelPadding": 3, "titlePadding": 2}}
  },
  "layer": [
    {"data": {"name": "dotA"}, "mark": {"type": "point", "filled": true, "size": 6, "color": "#ff0000", "opacity": 1}},
    {"data": {"values": [{"x": -0.2, "y": 7.79e-5}, {"x": 0.6, "y": 7.79e-5}]}, "mark": {"type": "line", "color": "#222222", "strokeWidth": 1.2, "strokeDash": [6, 4]}, "encoding": {}},
    {"data": {"name": "fitA"}, "transform": [{"filter": "datum.k == 'm'"}], "mark": {"type": "line", "color": "#ff0000", "strokeWidth": 1.5}, "encoding": {}},
    {"data": {"name": "fitA"}, "transform": [{"filter": "datum.k == 'p'"}], "mark": {"type": "line", "color": "#ff0000", "strokeWidth": 1.5, "strokeDash": [6, 4]}, "encoding": {}},
    {"data": {"name": "sqA"}, "mark": {"type": "square", "filled": true, "size": 17, "color": "black", "opacity": 1}},
    {"data": {"name": "boxA"}, "mark": {"type": "line", "color": "black", "strokeWidth": 1}, "encoding": {"order": {"field": "o", "type": "quantitative"}}},
    {"data": {"values": [{"x": -0.172, "y": 1.053e-4, "t": "a"}]}, "mark": {"type": "text", "align": "left", "baseline": "alphabetic", "fontSize": 32, "fontWeight": "bold", "color": "black"},
     "encoding": {"text": {"field": "t"}}}
  ]
 },
 {
  "resolve": {"scale": {"x": "shared", "y": "shared"}, "axis": {"x": "shared", "y": "shared"}},
  "encoding": {
    "x": {"field": "x", "type": "quantitative", "scale": {"domain": [0, 1], "range": [661.8, 1014.2], "nice": false, "zero": false},
          "axis": {"orient": "bottom", "offset": -155, "values": [0, 0.2, 0.4, 0.6, 0.8, 1.0], "format": ".1f", "title": "p−values of GSE30788/GSE85446", "labelPadding": 7.3, "titlePadding": 6}},
    "y": {"field": "y", "type": "quantitative", "scale": {"domain": [5.8e-5, 1.121e-4], "range": [337, 24.3], "nice": false, "zero": false}, "axis": null}
  },
  "layer": [
    {"data": {"name": "dotB"}, "mark": {"type": "point", "filled": true, "size": 6, "color": "#ff0000", "opacity": 1}},
    {"data": {"values": [{"x": 0, "y": 7.79e-5}, {"x": 1, "y": 7.79e-5}]}, "mark": {"type": "line", "color": "#222222", "strokeWidth": 1.2, "strokeDash": [6, 4]}, "encoding": {}},
    {"data": {"name": "fitB"}, "transform": [{"filter": "datum.k == 'm'"}], "mark": {"type": "line", "color": "#ff0000", "strokeWidth": 1.5}, "encoding": {}},
    {"data": {"name": "fitB"}, "transform": [{"filter": "datum.k == 'p'"}], "mark": {"type": "line", "color": "#ff0000", "strokeWidth": 1.5, "strokeDash": [6, 4]}, "encoding": {}},
    {"data": {"name": "sqB"}, "mark": {"type": "square", "filled": true, "size": 17, "color": "black", "opacity": 1}},
    {"data": {"name": "boxB"}, "mark": {"type": "line", "color": "black", "strokeWidth": 1}, "encoding": {"order": {"field": "o", "type": "quantitative"}}},
    {"data": {"values": [{"x": 0.05, "y": 1.051e-4, "t": "b"}]}, "mark": {"type": "text", "align": "left", "baseline": "alphabetic", "fontSize": 32, "fontWeight": "bold", "color": "black"},
     "encoding": {"text": {"field": "t"}}}
  ]
 },
 {
  "data": {"name": "caption"},
  "encoding": {
    "x": {"datum": 0, "type": "quantitative", "scale": {"domain": [0, 1], "range": [0, 1282]}, "axis": null},
    "y": {"field": "line", "type": "ordinal", "scale": {"type": "point", "range": [412.3, 470.3], "padding": 0}, "axis": null},
    "text": {"field": "text"}
  },
  "layer": [
    {"transform": [{"filter": "datum.seg == 'head'"}], "mark": {"type": "text", "align": "left", "baseline": "alphabetic", "font": "Open Sans", "fontSize": 18.07, "fontWeight": "bold", "dx": 18, "color": "#231f20"}},
    {"transform": [{"filter": "datum.seg == 'body'"}], "mark": {"type": "text", "align": "left", "baseline": "alphabetic", "font": "Open Sans", "fontSize": 18.07, "dx": 69, "color": "#231f20"}},
    {"transform": [{"filter": "datum.seg == 'full'"}], "mark": {"type": "text", "align": "left", "baseline": "alphabetic", "font": "Open Sans", "fontSize": 18.07, "dx": 18, "color": "#231f20"}}
  ]
 }
]
}
